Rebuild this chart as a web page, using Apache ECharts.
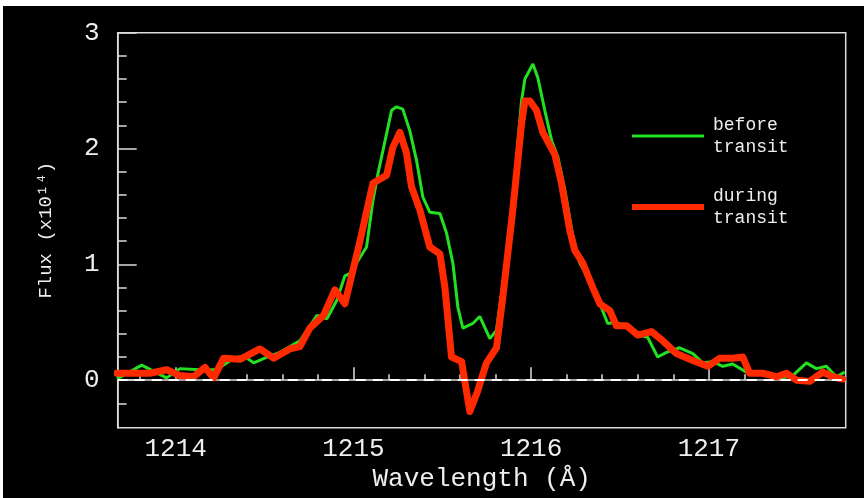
<!DOCTYPE html>
<html>
<head>
<meta charset="utf-8">
<script src="https://cdn.jsdelivr.net/npm/echarts@6/dist/echarts.min.js"></script>
<style>
html,body{margin:0;padding:0;background:#ffffff;}
#chart{position:absolute;left:3px;top:6px;width:861px;height:492px;}
</style>
</head>
<body>
<div id="chart"></div>
<script>
// Wavelength (Å) and flux (x10^14)
const beforeWave = [1213.670,1213.809,1213.949,1214.024,1214.137,1214.231,1214.326,1214.382,1214.439,1214.514,1214.587,1214.699,1214.795,1214.851,1214.907,1214.952,1214.980,1215.074,1215.110,1215.138,1215.166,1215.215,1215.243,1215.278,1215.318,1215.355,1215.391,1215.430,1215.487,1215.524,1215.560,1215.588,1215.616,1215.672,1215.711,1215.768,1215.805,1215.841,1215.897,1215.946,1215.965,1216.010,1216.038,1216.077,1216.115,1216.150,1216.190,1216.235,1216.274,1216.331,1216.387,1216.431,1216.480,1216.537,1216.611,1216.656,1216.712,1216.762,1216.836,1216.910,1216.966,1217.022,1217.078,1217.134,1217.211,1217.286,1217.359,1217.415,1217.472,1217.549,1217.605,1217.661,1217.718,1217.764];
const beforeFlux = [0.01,0.13,0.02,0.10,0.09,0.09,0.19,0.21,0.15,0.20,0.24,0.34,0.56,0.53,0.69,0.90,0.92,1.15,1.55,1.78,1.98,2.33,2.36,2.34,2.15,1.90,1.58,1.45,1.44,1.27,1.01,0.63,0.45,0.49,0.55,0.36,0.43,0.83,1.55,2.41,2.60,2.73,2.61,2.33,2.07,1.93,1.64,1.24,1.01,0.86,0.66,0.49,0.50,0.46,0.39,0.37,0.20,0.24,0.28,0.23,0.15,0.16,0.12,0.14,0.07,0.06,0.04,0.02,0.04,0.15,0.10,0.12,0.03,0.07];

const duringWave = [1213.670,1213.782,1213.855,1213.951,1214.024,1214.101,1214.165,1214.214,1214.270,1214.362,1214.474,1214.551,1214.643,1214.699,1214.755,1214.832,1214.896,1214.952,1215.037,1215.110,1215.187,1215.222,1215.262,1215.299,1215.327,1215.374,1215.430,1215.487,1215.515,1215.552,1215.609,1215.655,1215.700,1215.749,1215.805,1215.841,1215.897,1215.946,1215.965,1215.993,1216.030,1216.066,1216.133,1216.171,1216.218,1216.246,1216.291,1216.347,1216.387,1216.443,1216.480,1216.537,1216.600,1216.677,1216.741,1216.818,1216.910,1216.994,1217.062,1217.135,1217.191,1217.230,1217.303,1217.380,1217.436,1217.493,1217.567,1217.641,1217.697,1217.753];
const duringFlux = [0.06,0.06,0.06,0.09,0.04,0.03,0.11,0.02,0.19,0.18,0.27,0.19,0.27,0.29,0.45,0.56,0.78,0.66,1.20,1.70,1.77,2.01,2.14,1.96,1.67,1.47,1.15,1.09,0.80,0.20,0.16,-0.27,-0.09,0.15,0.28,0.72,1.47,2.21,2.41,2.41,2.33,2.14,1.95,1.70,1.29,1.12,1.01,0.80,0.66,0.60,0.47,0.47,0.39,0.42,0.34,0.23,0.17,0.12,0.19,0.19,0.20,0.06,0.06,0.03,0.06,0.00,-0.01,0.07,0.03,0.01];

const xMajorTicks = [1214,1215,1216,1217];
const xMinorTicks = [1213.8,1214.2,1214.4,1214.6,1214.8,1215.2,1215.4,1215.6,1215.8,1216.2,1216.4,1216.6,1216.8,1217.2,1217.4,1217.6];
const yMajorTicks = [0,1,2,3];
const yMinorTicks = [-0.2,0.2,0.4,0.6,0.8,1.2,1.4,1.6,1.8,2.2,2.4,2.6,2.8];

const xMin = 1213.674, xMax = 1217.77, yMin = -0.41, yMax = 3;
const FONT = 'Liberation Mono';
const AX = '#dcdcdc';

const chart = echarts.init(document.getElementById('chart'));
const zip = (a,b) => a.map((v,i)=>[v,b[i]]);

chart.setOption({
  backgroundColor: '#000000',
  animation: false,
  grid: {left: 114.7, top: 26.7, width: 728, height: 395, show: true, borderColor: AX, borderWidth: 1.5, backgroundColor: 'transparent'},
  xAxis: [
    {type:'value', min:xMin, max:xMax, position:'bottom',
     axisLine:{show:true, lineStyle:{color:AX, width:1.5}},
     axisTick:{show:true, inside:true, length:13, customValues:xMajorTicks, lineStyle:{color:AX, width:1.5}},
     axisLabel:{show:true, customValues:xMajorTicks, color:'#eeeeee', fontFamily:FONT, fontSize:26, margin:8, formatter:v=>String(Math.round(v))},
     splitLine:{show:false},
     name:'Wavelength (Å)', nameLocation:'middle', nameGap:32,
     nameTextStyle:{color:'#eeeeee', fontFamily:FONT, fontSize:26}},
    {type:'value', min:xMin, max:xMax, position:'bottom',
     axisLine:{show:false},
     axisTick:{show:true, inside:true, length:6, customValues:xMinorTicks, lineStyle:{color:AX, width:1.5}},
     axisLabel:{show:false}, splitLine:{show:false}}
  ],
  yAxis: [
    {type:'value', min:yMin, max:yMax, position:'left',
     axisLine:{show:true, lineStyle:{color:AX, width:1.5}},
     axisTick:{show:true, inside:true, length:19, customValues:yMajorTicks, lineStyle:{color:AX, width:1.5}},
     axisLabel:{show:true, customValues:yMajorTicks, color:'#eeeeee', fontFamily:FONT, fontSize:26, margin:18},
     splitLine:{show:false},
     name:'Flux (x10¹⁴)', nameLocation:'middle', nameGap:62,
     nameTextStyle:{color:'#eeeeee', fontFamily:FONT, fontSize:19}},
    {type:'value', min:yMin, max:yMax, position:'left',
     axisLine:{show:false},
     axisTick:{show:true, inside:true, length:9, customValues:yMinorTicks, lineStyle:{color:AX, width:1.5}},
     axisLabel:{show:false}, splitLine:{show:false}}
  ],
  legend: [
    {data:[{name:'before\ntransit', icon:'rect'}], left:629, top:108, padding:0,
     itemWidth:72, itemHeight:3, itemGap:9,
     textStyle:{color:'#eeeeee', fontFamily:FONT, fontSize:18, lineHeight:22, padding:[0,0,0,4]}},
    {data:[{name:'during\ntransit', icon:'rect'}], left:629, top:179, padding:0,
     itemWidth:72, itemHeight:6, itemGap:9,
     textStyle:{color:'#eeeeee', fontFamily:FONT, fontSize:18, lineHeight:22, padding:[0,0,0,4]}}
  ],
  series: [
    {name:'before\ntransit', type:'line', xAxisIndex:0, yAxisIndex:0,
     data: zip(beforeWave, beforeFlux), showSymbol:false, symbol:'none', z:2,
     itemStyle:{color:'#22e022'}, lineStyle:{color:'#22e022', width:3},
     markLine:{silent:true, symbol:'none', label:{show:false},
       lineStyle:{color:'#ffffff', type:[10,7], width:2},
       data:[{yAxis:0}]}},
    {name:'during\ntransit', type:'line', xAxisIndex:0, yAxisIndex:0,
     data: zip(duringWave, duringFlux), showSymbol:false, symbol:'none', z:3,
     itemStyle:{color:'#ff2a00'}, lineStyle:{color:'#ff2a00', width:7, join:'round', cap:'round'}}
  ]
});
</script>
</body>
</html>
